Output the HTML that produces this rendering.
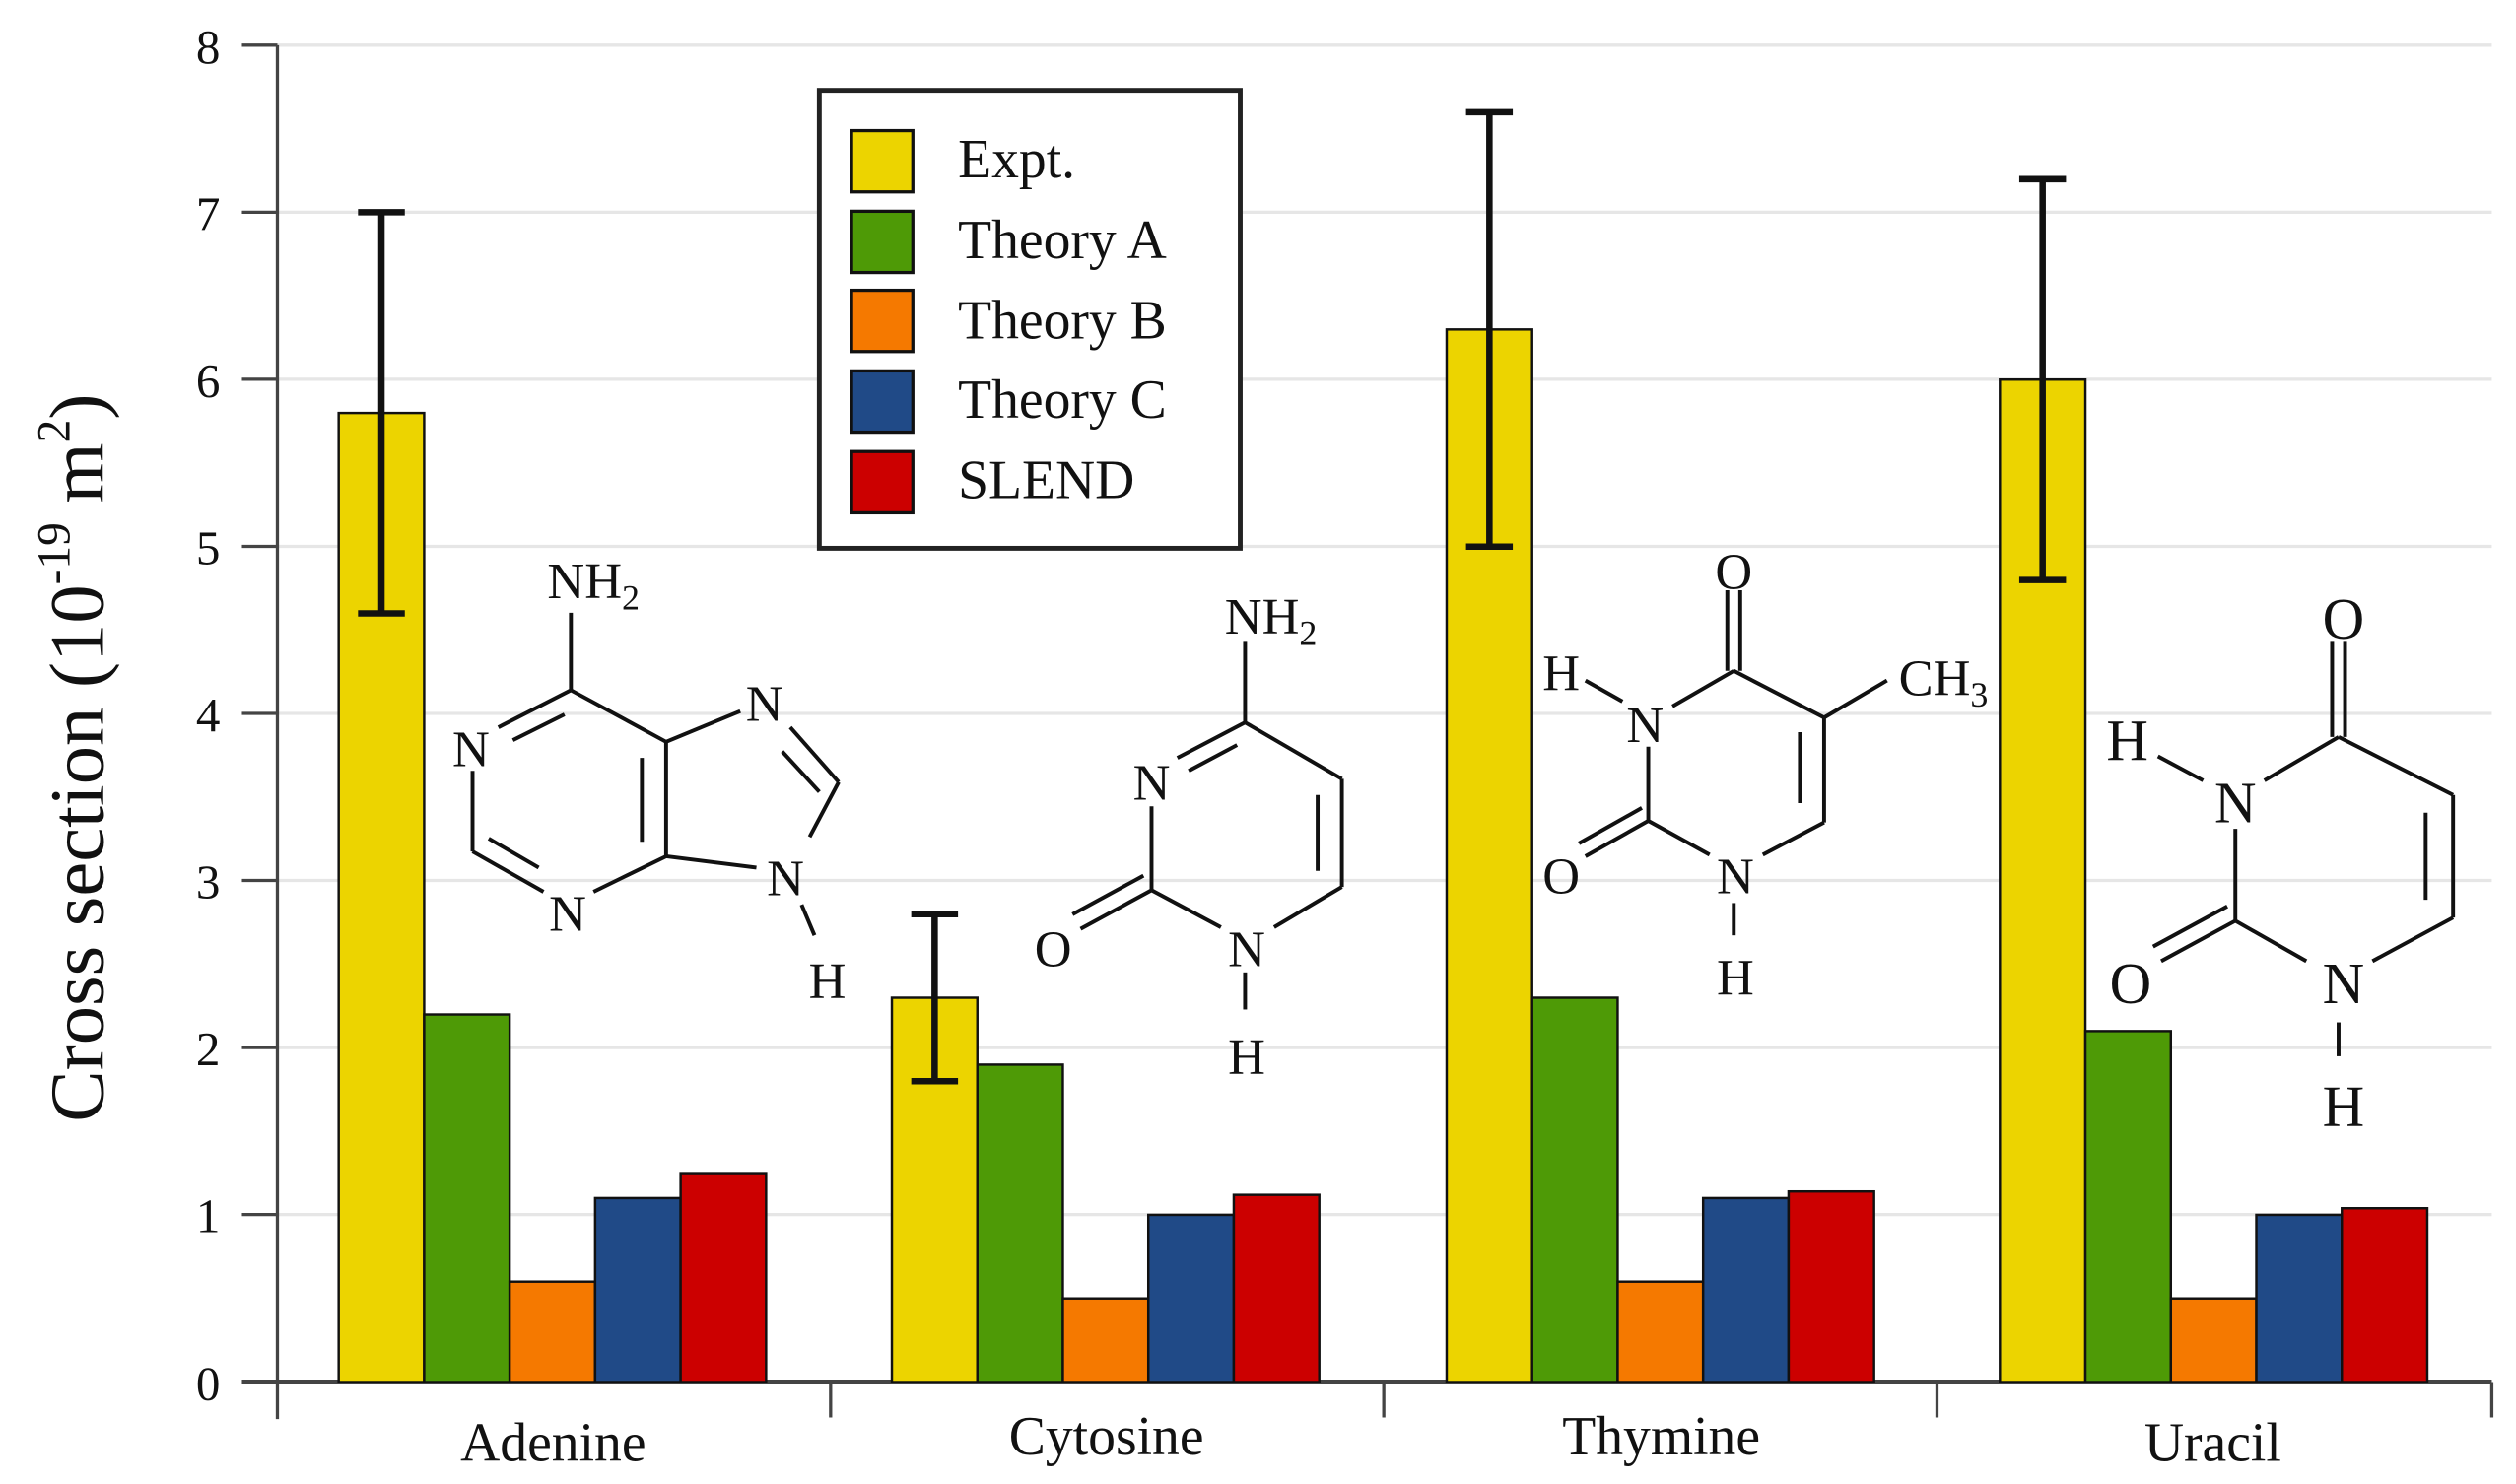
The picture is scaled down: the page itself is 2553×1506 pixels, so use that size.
<!DOCTYPE html>
<html><head><meta charset="utf-8"><style>
html,body{margin:0;padding:0;background:#fff;}
svg{display:block;}
text{font-family:"Liberation Serif",serif;fill:#111;}
</style></head><body>
<svg width="2553" height="1506" viewBox="0 0 1560 920.25" preserveAspectRatio="none" xmlns="http://www.w3.org/2000/svg">
<g stroke="#e6e6e6" stroke-width="2">
<line x1="172" y1="28" x2="1545" y2="28"/>
<line x1="172" y1="131.6" x2="1545" y2="131.6"/>
<line x1="172" y1="235.2" x2="1545" y2="235.2"/>
<line x1="172" y1="338.8" x2="1545" y2="338.8"/>
<line x1="172" y1="442.4" x2="1545" y2="442.4"/>
<line x1="172" y1="546" x2="1545" y2="546"/>
<line x1="172" y1="649.6" x2="1545" y2="649.6"/>
<line x1="172" y1="753.2" x2="1545" y2="753.2"/>
</g>
<g stroke="#444" stroke-width="2">
<line x1="172" y1="28" x2="172" y2="880"/>
<line x1="150" y1="857" x2="1545" y2="857" stroke-width="3"/>
<line x1="150" y1="28" x2="172" y2="28"/>
<line x1="150" y1="131.6" x2="172" y2="131.6"/>
<line x1="150" y1="235.2" x2="172" y2="235.2"/>
<line x1="150" y1="338.8" x2="172" y2="338.8"/>
<line x1="150" y1="442.4" x2="172" y2="442.4"/>
<line x1="150" y1="546" x2="172" y2="546"/>
<line x1="150" y1="649.6" x2="172" y2="649.6"/>
<line x1="150" y1="753.2" x2="172" y2="753.2"/>
<line x1="515" y1="857" x2="515" y2="879"/>
<line x1="858" y1="857" x2="858" y2="879"/>
<line x1="1201" y1="857" x2="1201" y2="879"/>
<line x1="1545" y1="857" x2="1545" y2="879"/>
</g>
<g font-size="30" text-anchor="middle">
<text x="129" y="39">8</text>
<text x="129" y="142.6">7</text>
<text x="129" y="246.2">6</text>
<text x="129" y="349.8">5</text>
<text x="129" y="453.4">4</text>
<text x="129" y="557">3</text>
<text x="129" y="660.6">2</text>
<text x="129" y="764.2">1</text>
<text x="129" y="868">0</text>
</g>
<g font-size="34" text-anchor="middle">
<text x="343" y="906">Adenine</text>
<text x="686" y="902">Cytosine</text>
<text x="1030" y="902">Thymine</text>
<text x="1372" y="906">Uracil</text>
</g>
<text transform="translate(64,470) rotate(-90)" font-size="48" text-anchor="middle">Cross section (10<tspan font-size="29" dy="-21">-19</tspan><tspan dy="21"> m</tspan><tspan font-size="29" dy="-21">2</tspan><tspan dy="21">)</tspan></text>

<g stroke="#111" stroke-width="1.5">
<rect x="210" y="256.1" width="53" height="600.9" fill="#ecd400"/>
<rect x="263" y="629.1" width="53" height="227.9" fill="#4e9a06"/>
<rect x="316" y="794.8" width="53" height="62.2" fill="#f57900"/>
<rect x="369" y="743.0" width="53" height="114" fill="#204a87"/>
<rect x="422" y="727.5" width="53" height="129.5" fill="#cc0000"/>
<rect x="553" y="618.7" width="53" height="238.3" fill="#ecd400"/>
<rect x="606" y="660.2" width="53" height="196.8" fill="#4e9a06"/>
<rect x="659" y="805.2" width="53" height="51.8" fill="#f57900"/>
<rect x="712" y="753.4" width="53" height="103.6" fill="#204a87"/>
<rect x="765" y="741.0" width="53" height="116" fill="#cc0000"/>
<rect x="897" y="204.3" width="53" height="652.7" fill="#ecd400"/>
<rect x="950" y="618.7" width="53" height="238.3" fill="#4e9a06"/>
<rect x="1003" y="794.8" width="53" height="62.2" fill="#f57900"/>
<rect x="1056" y="743.0" width="53" height="114" fill="#204a87"/>
<rect x="1109" y="738.9" width="53" height="118.1" fill="#cc0000"/>
<rect x="1240" y="235.4" width="53" height="621.6" fill="#ecd400"/>
<rect x="1293" y="639.4" width="53" height="217.6" fill="#4e9a06"/>
<rect x="1346" y="805.2" width="53" height="51.8" fill="#f57900"/>
<rect x="1399" y="753.4" width="53" height="103.6" fill="#204a87"/>
<rect x="1452" y="749.3" width="53" height="107.7" fill="#cc0000"/>
</g>
<g stroke="#111" stroke-width="4">
<line x1="236.5" y1="131.6" x2="236.5" y2="380.4"/><line x1="222" y1="131.6" x2="251" y2="131.6"/><line x1="222" y1="380.4" x2="251" y2="380.4"/>
<line x1="579.5" y1="566.9" x2="579.5" y2="670.5"/><line x1="565" y1="566.9" x2="594" y2="566.9"/><line x1="565" y1="670.5" x2="594" y2="670.5"/>
<line x1="923.5" y1="69.6" x2="923.5" y2="339"/><line x1="909" y1="69.6" x2="938" y2="69.6"/><line x1="909" y1="339" x2="938" y2="339"/>
<line x1="1266.5" y1="111.1" x2="1266.5" y2="359.7"/><line x1="1252" y1="111.1" x2="1281" y2="111.1"/><line x1="1252" y1="359.7" x2="1281" y2="359.7"/>
</g>
<rect x="508" y="56" width="261" height="284" fill="#fff" stroke="#222" stroke-width="3"/>
<g stroke="#111" stroke-width="2">
<rect x="528" y="81" width="38" height="38" fill="#ecd400"/>
<rect x="528" y="131" width="38" height="38" fill="#4e9a06"/>
<rect x="528" y="180" width="38" height="38" fill="#f57900"/>
<rect x="528" y="230" width="38" height="38" fill="#204a87"/>
<rect x="528" y="280" width="38" height="38" fill="#cc0000"/>
</g>
<g font-size="34">
<text x="594" y="110">Expt.</text>
<text x="594" y="160">Theory A</text>
<text x="594" y="210">Theory B</text>
<text x="594" y="259">Theory C</text>
<text x="594" y="309">SLEND</text>
</g>

<g stroke="#111" stroke-width="2.4" fill="none">
<line x1="354" y1="380" x2="354" y2="428"/>
<line x1="354" y1="428" x2="309" y2="451"/>
<line x1="350" y1="443" x2="318" y2="459"/>
<line x1="293" y1="478" x2="293" y2="528"/>
<line x1="293" y1="528" x2="337" y2="553"/>
<line x1="303" y1="520" x2="334" y2="538"/>
<line x1="368" y1="553" x2="413" y2="531"/>
<line x1="413" y1="531" x2="413" y2="460"/>
<line x1="398" y1="522" x2="398" y2="470"/>
<line x1="413" y1="460" x2="354" y2="428"/>
<line x1="413" y1="460" x2="459" y2="441"/>
<line x1="490" y1="451" x2="520" y2="485"/>
<line x1="485" y1="466" x2="508" y2="491"/>
<line x1="520" y1="485" x2="502" y2="519"/>
<line x1="413" y1="531" x2="469" y2="538"/>
<line x1="497" y1="561" x2="505" y2="580"/>
<line x1="772" y1="398" x2="772" y2="448"/>
<line x1="772" y1="448" x2="730" y2="470"/>
<line x1="767" y1="462" x2="737" y2="478"/>
<line x1="714" y1="500" x2="714" y2="552"/>
<line x1="714" y1="552" x2="670" y2="576"/>
<line x1="709" y1="543" x2="665" y2="567"/>
<line x1="714" y1="552" x2="757" y2="575"/>
<line x1="790" y1="575" x2="832" y2="550"/>
<line x1="832" y1="550" x2="832" y2="483"/>
<line x1="817" y1="540" x2="817" y2="493"/>
<line x1="832" y1="483" x2="772" y2="448"/>
<line x1="772" y1="603" x2="772" y2="626"/>
<line x1="1071" y1="366" x2="1071" y2="416"/>
<line x1="1079" y1="366" x2="1079" y2="416"/>
<line x1="983" y1="422" x2="1006" y2="435"/>
<line x1="1037" y1="438" x2="1075" y2="416"/>
<line x1="1075" y1="416" x2="1131" y2="445"/>
<line x1="1131" y1="445" x2="1170" y2="422"/>
<line x1="1131" y1="445" x2="1131" y2="510"/>
<line x1="1116" y1="454" x2="1116" y2="498"/>
<line x1="1131" y1="510" x2="1093" y2="530"/>
<line x1="1060" y1="530" x2="1022" y2="509"/>
<line x1="1022" y1="509" x2="1022" y2="463"/>
<line x1="1022" y1="509" x2="983" y2="531"/>
<line x1="1018" y1="501" x2="979" y2="523"/>
<line x1="1075" y1="560" x2="1075" y2="580"/>
<line x1="1446" y1="398" x2="1446" y2="457"/>
<line x1="1454" y1="398" x2="1454" y2="457"/>
<line x1="1338" y1="469" x2="1366" y2="484"/>
<line x1="1404" y1="484" x2="1450" y2="457"/>
<line x1="1450" y1="457" x2="1521" y2="493"/>
<line x1="1521" y1="493" x2="1521" y2="569"/>
<line x1="1504" y1="504" x2="1504" y2="558"/>
<line x1="1521" y1="569" x2="1471" y2="596"/>
<line x1="1430" y1="596" x2="1386" y2="571"/>
<line x1="1386" y1="571" x2="1386" y2="514"/>
<line x1="1386" y1="571" x2="1340" y2="596"/>
<line x1="1381" y1="562" x2="1335" y2="587"/>
<line x1="1450" y1="634" x2="1450" y2="655"/>
</g>
<g font-size="32" text-anchor="middle">
<text x="368" y="371">NH<tspan font-size="22" dy="7">2</tspan></text>
<text x="292" y="475">N</text>
<text x="352" y="577">N</text>
<text x="474" y="447">N</text>
<text x="487" y="555">N</text>
<text x="513" y="619">H</text>
<text x="788" y="393">NH<tspan font-size="22" dy="7">2</tspan></text>
<text x="714" y="496">N</text>
<text x="653" y="599">O</text>
<text x="773" y="599">N</text>
<text x="773" y="666">H</text>
<text x="1075" y="365">O</text>
<text x="968" y="428">H</text>
<text x="1020" y="460">N</text>
<text x="1205" y="431">CH<tspan font-size="22" dy="7">3</tspan></text>
<text x="968" y="554">O</text>
<text x="1076" y="554">N</text>
<text x="1076" y="617">H</text>
</g>
<g font-size="36" text-anchor="middle">
<text x="1453" y="396">O</text>
<text x="1319" y="471">H</text>
<text x="1386" y="510">N</text>
<text x="1321" y="622">O</text>
<text x="1453" y="622">N</text>
<text x="1453" y="698">H</text>
</g>
</svg>
</body></html>
